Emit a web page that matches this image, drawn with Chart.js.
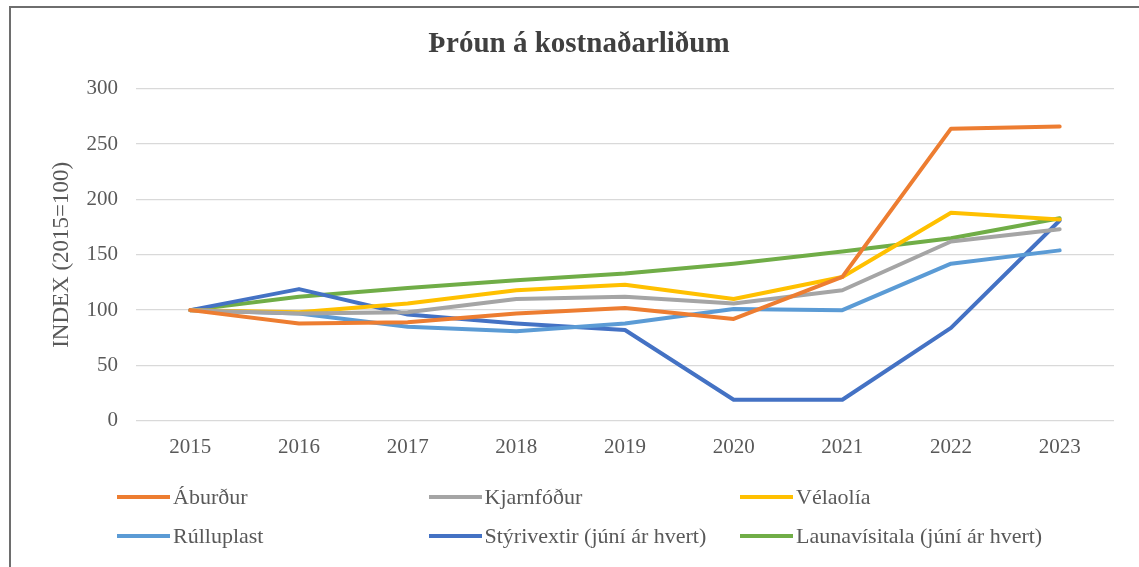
<!DOCTYPE html>
<html>
<head>
<meta charset="utf-8">
<script src="https://cdn.jsdelivr.net/npm/chart.js@4"></script>
<style>
    body { margin: 0; background: #ffffff; }
    #wrap { position: relative; width: 1139px; height: 567px; overflow: hidden; }
    #frame { position: absolute; left: 9px; top: 6px; right: -5px; bottom: -5px; border: 1px solid #6e6e6e; border-width: 2px 0 0 2px; }
    #legend { position: absolute; left: 117px; top: 484px; width: 960px; font-family: "Liberation Serif", serif; font-size: 22px; color: #595959; }
    .lg-item { position: absolute; display: flex; align-items: center; white-space: nowrap; }
    .lg-line { width: 53px; height: 4px; margin-right: 3px; }
</style>
</head>
<body>
<div id="wrap">
    <canvas id="costChart" width="1139" height="567"></canvas>
    <div id="frame"></div>
    <div id="legend"></div>
</div>
<script>
/* Data */
const years = ['2015', '2016', '2017', '2018', '2019', '2020', '2021', '2022', '2023'];
const seriesNames = ['Áburður', 'Kjarnfóður', 'Vélaolía', 'Rúlluplast', 'Stýrivextir (júní ár hvert)', 'Launavísitala (júní ár hvert)'];
const aburdur = [100, 88, 89, 97, 102, 92, 130, 264, 266];
const kjarnfodur = [100, 97, 98, 110, 112, 106, 118, 162, 173];
const velaolia = [100, 98, 106, 118, 123, 110, 130, 188, 182];
const rulluplast = [100, 97, 85, 81, 88, 101, 100, 142, 154];
const styrivextir = [100, 119, 96, 88, 82, 19, 19, 84, 181];
const launavisitala = [100, 112, 120, 127, 133, 142, 153, 165, 183];
const colors = ['#ED7D31', '#A5A5A5', '#FFC000', '#5B9BD5', '#4472C4', '#70AD47'];

const allSeries = [aburdur, kjarnfodur, velaolia, rulluplast, styrivextir, launavisitala];
const serif = '"Liberation Serif", "Times New Roman", serif';

const getDatasets = function() {
    return allSeries.map((values, i) => ({
        label: seriesNames[i],
        data: values,
        borderColor: colors[i],
        backgroundColor: colors[i],
        borderWidth: 4,
        pointRadius: 0,
        tension: 0,
        borderCapStyle: 'round',
        borderJoinStyle: 'round'
    }));
}

new Chart(document.getElementById('costChart'), {
    type: 'line',
    data: { labels: years, datasets: getDatasets() },
    options: {
        responsive: false,
        animation: false,
        layout: { padding: { top: 0, left: 44, right: 25, bottom: 93 } },
        scales: {
            x: {
                offset: true,
                grid: { display: false, drawTicks: false },
                border: { display: false },
                ticks: { color: '#595959', padding: 14, font: { family: serif, size: 21 } }
            },
            y: {
                min: 0,
                max: 300,
                ticks: { stepSize: 50, color: '#595959', padding: 18, font: { family: serif, size: 21 } },
                grid: { color: '#D9D9D9', lineWidth: 1.3, drawTicks: false },
                border: { display: false },
                title: {
                    display: true,
                    text: 'INDEX (2015=100)',
                    color: '#595959',
                    font: { family: serif, size: 23 },
                    padding: { top: 4, bottom: 4 }
                },
                afterFit: function(scale) {
                    scale.width = 92; // keeps plot left edge at ~136px
                }
            }
        },
        plugins: {
            legend: { display: false },
            tooltip: { enabled: false },
            title: {
                display: true,
                text: 'Þróun á kostnaðarliðum',
                color: '#404040',
                font: { family: serif, size: 29, weight: 'bold' },
                padding: { top: 27, bottom: 27 }
            }
        }
    }
});

// Legend, two rows of three like the original
const legendBox = document.getElementById('legend');
seriesNames.map((name, i) => {
    const item = document.createElement('div');
    item.className = 'lg-item';
    item.style.left = (i % 3) * 311.5 + 'px';
    item.style.top = Math.floor(i / 3) * 39 + 'px';
    item.innerHTML = '<div class="lg-line"></div><span></span>';
    item.children[0].style.background = colors[i];
    item.children[1].innerText = name;
    legendBox.appendChild(item);
});
</script>
</body>
</html>
